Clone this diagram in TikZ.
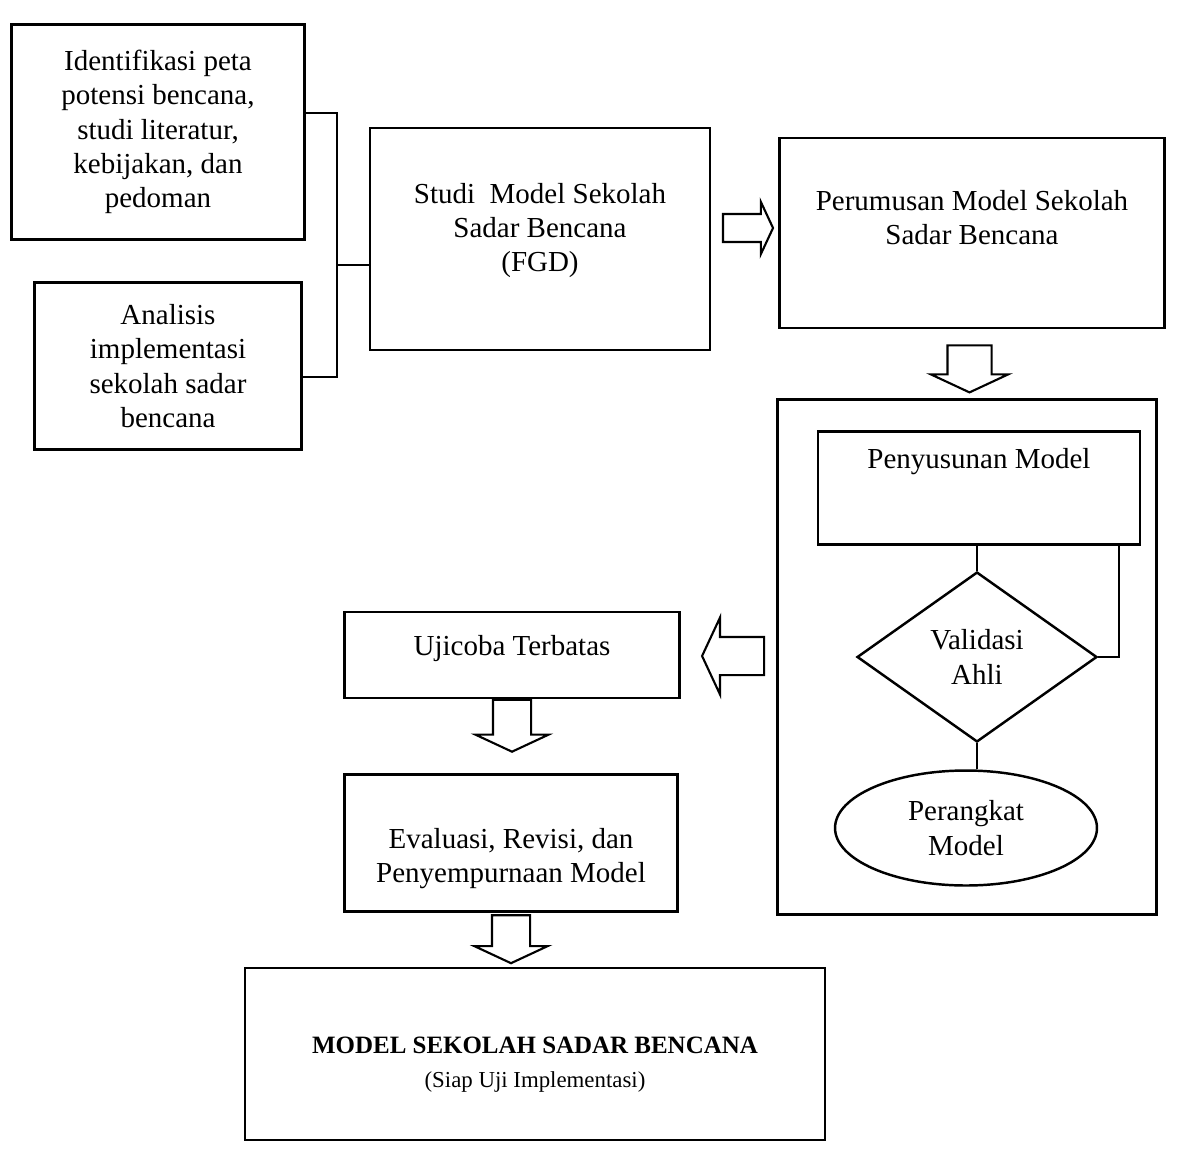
\documentclass[tikz,border=0pt]{standalone}
\usepackage{fontspec}
\setmainfont{Liberation Serif}
\usetikzlibrary{shapes.geometric,shapes.arrows,calc}
\newcommand\pxscale{0.02cm}

\begin{document}
\begin{tikzpicture}[
x=\pxscale,y=-\pxscale,
font=\fontsize{16.5}{19.5}\selectfont,
line width=1.4pt,
box/.style={draw,rectangle,align=center,inner sep=0pt},
fatarrow/.style n args={3}{single arrow,draw,fill=white,line width=1.2pt,
  inner sep=0pt,inner ysep=#2,single arrow head extend=#3,
  single arrow tip angle=130,minimum height=#1}
]
\useasboundingbox (0,0) rectangle (1185,1148);

% kiri: dua kotak masukan
\node[box,minimum width=5.86cm,minimum height=4.3cm] (ident) at (158,132)
  {Identifikasi peta\\potensi bencana,\\studi literatur,\\kebijakan, dan\\pedoman};
\node[box,minimum width=5.34cm,minimum height=3.34cm] (anal) at (168,366)
  {Analisis\\implementasi\\sekolah sadar\\bencana};

\node[box,minimum width=6.8cm,minimum height=4.44cm,text depth=0.46cm] (studi) at (540,239)
  {Studi \ Model Sekolah\\Sadar Bencana\\(FGD)};
\node[box,minimum width=7.7cm,minimum height=3.8cm,text depth=0.63cm] (rumus) at (972,233)
  {Perumusan Model Sekolah\\Sadar Bencana};

% kotak besar kanan
\node[box,minimum width=7.58cm,minimum height=10.3cm] (wadah) at (967,657) {};
\node[box,minimum width=6.44cm,minimum height=2.26cm,text depth=1.2cm] (susun) at (979,488)
  {Penyusunan Model};
\node[diamond,draw,align=center,inner sep=0pt,minimum width=4.8cm,minimum height=3.4cm] (valid) at (977,657)
  {Validasi\\Ahli};
\node[ellipse,draw,align=center,inner sep=0pt,minimum width=5.24cm,minimum height=2.3cm] (perangkat) at (966,828)
  {Perangkat\\Model};

\node[box,minimum width=6.7cm,minimum height=1.72cm,text depth=0.4cm] (uji) at (512,655)
  {Ujicoba Terbatas};
\node[box,minimum width=6.66cm,minimum height=2.74cm,text height=1.7cm] (eval) at (511,843)
  {Evaluasi, Revisi, dan\\Penyempurnaan Model};
\node[box,minimum width=11.6cm,minimum height=3.44cm,text height=1.45cm] (akhir) at (535,1054)
  {{\fontsize{14.2}{17}\selectfont\bfseries MODEL SEKOLAH SADAR BENCANA}\\
   {\fontsize{13}{15}\selectfont (Siap Uji Implementasi)}};

% kurung penghubung
\coordinate (join) at (337,265);
\draw (ident.east |- 0,113) -| (join) |- (anal.east |- 0,377);
\draw (join) -- (join -| studi.west);

% garis dalam kotak besar
\draw (valid.north) -- (valid.north |- susun.south);
\draw (valid.east) -| ([xshift=-0.44cm]susun.south east);
\draw (valid.south) -- (valid.south |- perangkat.north);

% panah blok
\node[fatarrow={1cm}{0.26cm}{0.24cm}] (p1) at ([yshift=0.16cm]$(studi.east)!.5!(rumus.west)$) {};
\node[fatarrow={0.94cm}{0.42cm}{0.33cm},rotate=-90] (p2) at ($(rumus.south)!.5!(wadah.north)$) {};
\node[fatarrow={1.24cm}{0.36cm}{0.39cm},rotate=180] (p3) at ([xshift=0.18cm]$(wadah.west)!.5!(uji.east)$) {};
\node[fatarrow={1.04cm}{0.36cm}{0.35cm},rotate=-90] (p4) at ([yshift=0.3cm]$(uji.south)!.5!(uji.south |- eval.north)$) {};
\node[fatarrow={0.96cm}{0.36cm}{0.35cm},rotate=-90] (p5) at ([yshift=0.1cm]$(eval.south)!.5!(eval.south |- akhir.north)$) {};

\end{tikzpicture}
\end{document}
